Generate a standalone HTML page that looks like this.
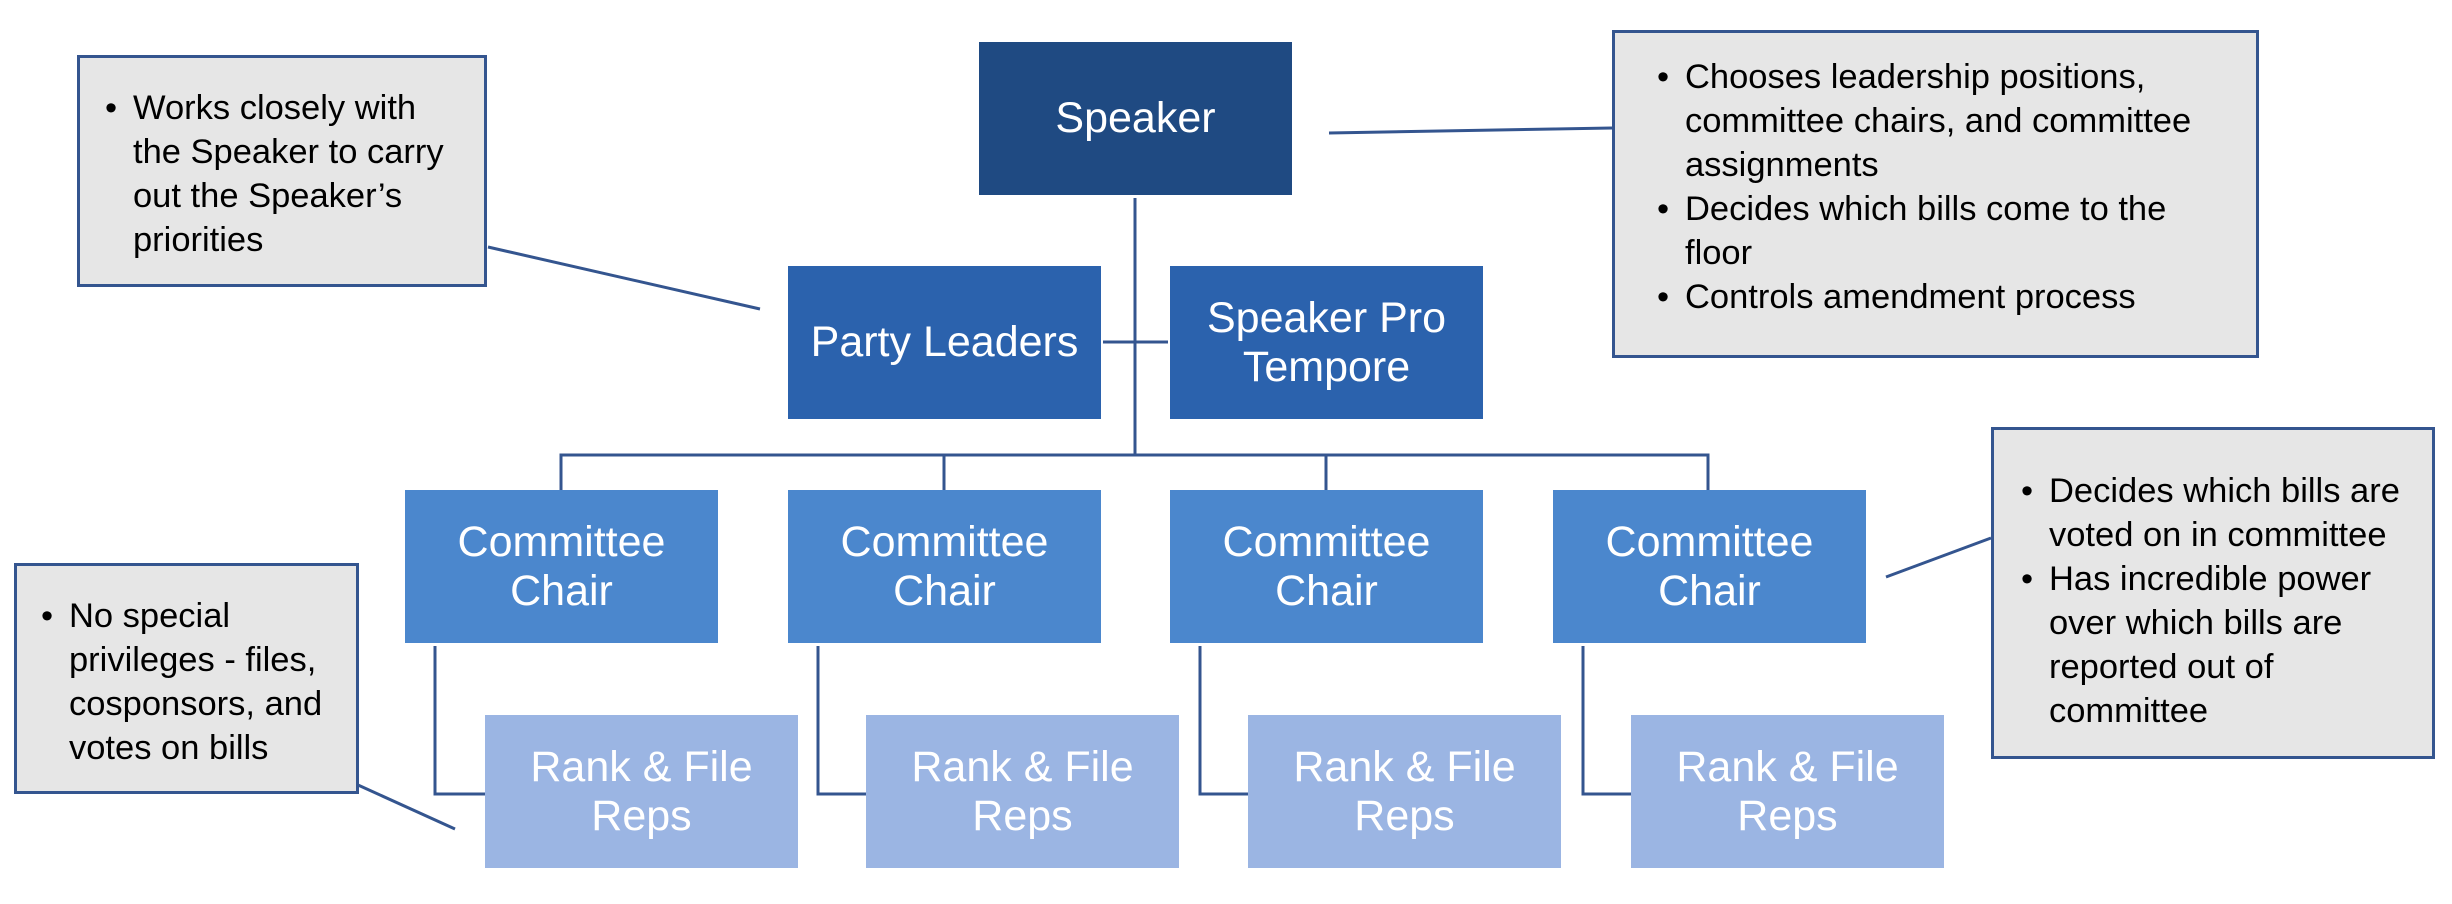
<!DOCTYPE html>
<html><head><meta charset="utf-8"><style>
body{margin:0;width:2452px;height:904px;background:#fff;position:relative;overflow:hidden;font-family:"Liberation Sans",sans-serif;}
.b{position:absolute;color:#fff;display:flex;align-items:center;justify-content:center;text-align:center;font-size:43px;line-height:49px;}
.sp{background:#1f4a82;}
.pl{background:#2b62ad;}
.cc{background:#4b87cd;}
.rf{background:#9bb5e3;}
.c{position:absolute;background:#e6e6e6;border:3px solid #34558f;box-sizing:border-box;}
.t{position:absolute;font-size:34.5px;line-height:44px;color:#000;white-space:nowrap;}
.t div{position:relative;}
.t div::before{content:"•";position:absolute;left:-28px;}
svg{position:absolute;left:0;top:0;}
</style></head><body>
<svg width="2452" height="904" fill="none" stroke="#34558f" stroke-width="3">
<line x1="1135" y1="198" x2="1135" y2="455"/>
<line x1="1103" y1="342" x2="1168" y2="342"/>
<polyline points="561,490 561,455 1708,455 1708,490"/>
<line x1="944" y1="455" x2="944" y2="490"/>
<line x1="1326" y1="455" x2="1326" y2="490"/>
<polyline points="435,646 435,794 485,794"/>
<polyline points="818,646 818,794 866,794"/>
<polyline points="1200,646 1200,794 1248,794"/>
<polyline points="1583,646 1583,794 1631,794"/>
<line x1="488" y1="247" x2="760" y2="309"/>
<line x1="1329" y1="133" x2="1612" y2="128"/>
<line x1="1886" y1="577" x2="1991" y2="538"/>
<line x1="358" y1="785" x2="455" y2="829"/>
</svg>
<div class="b sp" style="left:979px;top:42px;width:313px;height:153px;">Speaker</div>
<div class="b pl" style="left:788px;top:266px;width:313px;height:153px;">Party Leaders</div>
<div class="b pl" style="left:1170px;top:266px;width:313px;height:153px;">Speaker Pro<br>Tempore</div>
<div class="b cc" style="left:405px;top:490px;width:313px;height:153px;">Committee<br>Chair</div>
<div class="b cc" style="left:788px;top:490px;width:313px;height:153px;">Committee<br>Chair</div>
<div class="b cc" style="left:1170px;top:490px;width:313px;height:153px;">Committee<br>Chair</div>
<div class="b cc" style="left:1553px;top:490px;width:313px;height:153px;">Committee<br>Chair</div>
<div class="b rf" style="left:485px;top:715px;width:313px;height:153px;">Rank &amp; File<br>Reps</div>
<div class="b rf" style="left:866px;top:715px;width:313px;height:153px;">Rank &amp; File<br>Reps</div>
<div class="b rf" style="left:1248px;top:715px;width:313px;height:153px;">Rank &amp; File<br>Reps</div>
<div class="b rf" style="left:1631px;top:715px;width:313px;height:153px;">Rank &amp; File<br>Reps</div>

<div class="c" style="left:77px;top:55px;width:410px;height:232px;"></div>
<div class="t" style="left:133px;top:86px;"><div>Works closely with<br>the Speaker to carry<br>out the Speaker’s<br>priorities</div></div>

<div class="c" style="left:1612px;top:30px;width:647px;height:328px;"></div>
<div class="t" style="left:1685px;top:55px;"><div>Chooses leadership positions,<br>committee chairs, and committee<br>assignments</div><div>Decides which bills come to the<br>floor</div><div>Controls amendment process</div></div>

<div class="c" style="left:1991px;top:427px;width:444px;height:332px;"></div>
<div class="t" style="left:2049px;top:469px;"><div>Decides which bills are<br>voted on in committee</div><div>Has incredible power<br>over which bills are<br>reported out of<br>committee</div></div>

<div class="c" style="left:14px;top:563px;width:345px;height:231px;"></div>
<div class="t" style="left:69px;top:594px;"><div>No special<br>privileges - files,<br>cosponsors, and<br>votes on bills</div></div>
</body></html>
